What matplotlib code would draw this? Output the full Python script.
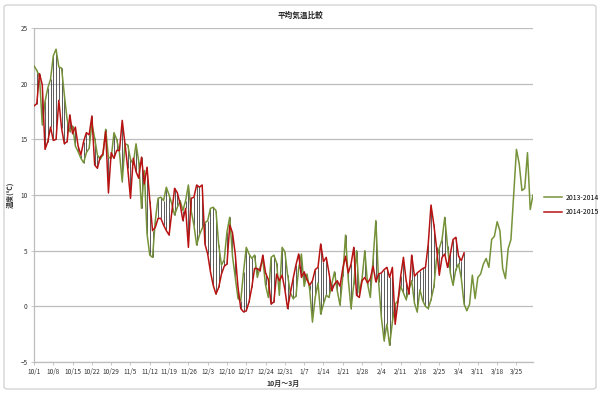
import numpy as np
import matplotlib
matplotlib.use("Agg")
import matplotlib.pyplot as plt
from matplotlib.patches import FancyBboxPatch

plt.rcParams["font.family"] = ["Noto Sans CJK JP", "DejaVu Sans"]

# daily mean temperature, one value per day from 10/1
TEMP_2013 = [
    21.6, 21.2, 20.6, 16.3, 18.4, 19.6, 20.4, 22.5, 23.1, 21.5,
    21.4, 19.0, 16.8, 15.7, 16.2, 14.4, 13.9, 13.3, 12.9, 13.8,
    14.2, 16.4, 15.1, 13.6, 13.2, 13.6, 15.9, 13.4, 13.3, 15.6,
    15.0, 13.8, 11.2, 14.6, 14.5, 13.2, 12.8, 14.6, 13.0, 8.8,
    12.2, 6.5, 4.6, 4.4, 7.7, 9.7, 9.8, 9.5, 10.7, 10.0,
    9.2, 8.2, 8.9, 9.5, 8.6, 9.5, 10.9, 8.6, 7.3, 5.5,
    6.4, 7.0, 7.5, 7.7, 8.8, 8.9, 8.6, 5.5, 3.7, 4.2,
    6.7, 8.0, 4.5, 2.6, 0.7, 0.5, 3.1, 5.3, 4.7, 4.3,
    4.6, 2.6, 3.5, 4.2, 1.9, 0.8, 4.4, 4.6, 3.9, 1.0,
    5.3, 4.9, 2.8, 1.2, 0.7, 0.9, 3.4, 4.7, 1.8, 2.9,
    1.5, -1.4, 0.8, 2.1, -0.7, 0.2, 1.0, 0.8, 2.0, 3.1,
    1.4, 0.1, 2.7, 6.4, 2.4, -0.2, 2.0, 5.0, 1.2, 2.5,
    5.0, 2.0, 0.8, 4.3, 7.7, 2.2, -1.0, -3.1, -1.6, -3.5,
    -1.4, 0.2, 0.5, 1.8, 1.2, 0.6, 1.5, 2.3, 0.3, -0.5,
    1.5, 0.5, 0.0, -0.2, 0.6, 1.7, 4.2, 5.2, 6.0, 8.0,
    5.4, 3.0, 1.9, 3.3, 3.8, 2.5, 0.2, -0.4, 0.2, 2.8,
    0.7, 2.6, 2.9, 3.8, 4.3, 3.5, 6.0, 6.3, 7.6, 6.8,
    3.4, 2.5, 5.2, 6.0, 10.0, 14.1, 12.8, 10.4, 10.6, 13.8,
    8.7, 10.0,
]

TEMP_2014 = [
    18.0, 18.2, 20.9, 19.9, 14.1, 14.8, 16.1, 14.9, 15.0, 18.5,
    16.0, 14.6, 14.8, 17.2, 15.5, 16.1, 14.4, 13.6, 14.8, 15.6,
    15.4, 17.1, 12.7, 12.4, 13.4, 13.7, 15.7, 10.2, 13.8, 13.3,
    14.0, 14.0, 16.7, 14.6, 12.4, 9.7, 13.3, 12.1, 11.5, 13.4,
    11.0, 12.5, 9.5, 6.8, 7.1, 7.9, 7.9, 7.3, 6.8, 6.4,
    8.5, 10.6, 10.2, 9.2, 7.7, 8.8, 5.3, 9.7, 9.8, 10.9,
    10.7, 10.9, 5.6, 4.7, 3.1, 1.9, 1.1, 1.7, 2.9, 3.6,
    3.8, 7.3, 6.6, 4.7, 1.7, -0.2, -0.5, -0.4, 0.4, 1.7,
    3.4, 3.4, 3.2, 4.6, 3.0, 2.4, 0.2, 0.4, 2.9, 2.3,
    2.8, 1.5, -0.2, 1.2, 2.5, 3.7, 4.7, 2.6, 3.1, 2.4,
    1.9, 2.3, 3.3, 3.5, 5.6, 4.0, 4.4, 3.0, 1.4, 2.0,
    2.3, 1.8, 3.4, 4.5, 3.0, 3.8, 5.3, 1.0, 0.8, 2.3,
    2.6, 2.1, 2.5, 3.6, 2.2, 2.9, 3.0, 3.3, 3.5, 2.6,
    3.5, -1.6, 0.4, 2.7, 4.4, 2.3, 1.1, 4.6, 2.7, 3.0,
    3.2, 3.4, 3.5, 5.6, 9.1, 7.4, 5.3, 2.8, 4.4, 4.7,
    3.5, 4.7, 6.0, 6.2, 4.5, 4.1, 4.8,
]

TICK_LABELS = [
    "10/1", "10/8", "10/15", "10/22", "10/29", "11/5", "11/12", "11/19",
    "11/26", "12/3", "12/10", "12/17", "12/24", "12/31", "1/7", "1/14",
    "1/21", "1/28", "2/4", "2/11", "2/18", "2/25", "3/4", "3/11", "3/18", "3/25",
]
SERIES_NAMES = ["2013-2014", "2014-2015"]

GREEN = "#76933a"
RED = "#b81212"
GRID = "#bdbdbd"
TXT = "#333333"

fig = plt.figure(figsize=(6.0, 3.93), dpi=100)
fig.patch.set_facecolor("white")

# chart area border
fig.patches.append(FancyBboxPatch(
    (4 / 600, 4 / 393), 592 / 600, 384 / 393,
    boxstyle="round,pad=0,rounding_size=0.006",
    transform=fig.transFigure, fill=False, edgecolor="#d4d4d4", lw=1.0))

ax = fig.add_axes([34 / 600, 1 - 362 / 393, 499 / 600, 334 / 393])

d13 = np.arange(len(TEMP_2013))
d14 = np.arange(len(TEMP_2014))
t13 = np.array(TEMP_2013)
t14 = np.array(TEMP_2014)

# high-low lines between the two seasons
n = len(t14)
ax.vlines(d14, np.minimum(t13[:n], t14), np.maximum(t13[:n], t14),
          color="#2e2e2e", lw=0.55, zorder=2)

ax.plot(d13, t13, color=GREEN, lw=1.1, zorder=3, label=SERIES_NAMES[0])
ax.plot(d14, t14, color=RED, lw=1.1, zorder=4, label=SERIES_NAMES[1])

ax.set_xlim(0, len(t13) - 1)
ax.set_ylim(-5, 25)
ax.set_yticks(np.arange(-5, 26, 5))
ax.yaxis.grid(True, color=GRID, lw=0.9)
ax.set_axisbelow(True)

ax.set_xticks(np.arange(len(TICK_LABELS)) * 7)
ax.set_xticklabels(TICK_LABELS)
ax.tick_params(axis="both", labelsize=4.6, colors=TXT, length=2.5,
               width=0.6, pad=2)
ax.tick_params(axis="x", colors=GRID, labelcolor=TXT)
ax.tick_params(axis="y", colors=GRID, labelcolor=TXT)

for side in ("top", "right"):
    ax.spines[side].set_visible(False)
for side in ("left", "bottom"):
    ax.spines[side].set_color(GRID)
    ax.spines[side].set_linewidth(0.9)

ax.set_ylabel("温度(℃)", fontsize=5, fontweight="bold", color=TXT, labelpad=5)
ax.set_xlabel("10月～3月", fontsize=5, fontweight="bold", color=TXT, labelpad=3)
fig.text(0.5, 1 - 15 / 393, "平均気温比較", ha="center", va="center",
         fontsize=5.5, fontweight="bold", color="#222222")

fig.legend(loc="center left", bbox_to_anchor=(541 / 600, 1 - 205 / 393),
           frameon=False, fontsize=5, handlelength=2.6, labelspacing=0.9,
           handletextpad=0.5, borderaxespad=0)

fig.savefig("out.png", dpi=100)
